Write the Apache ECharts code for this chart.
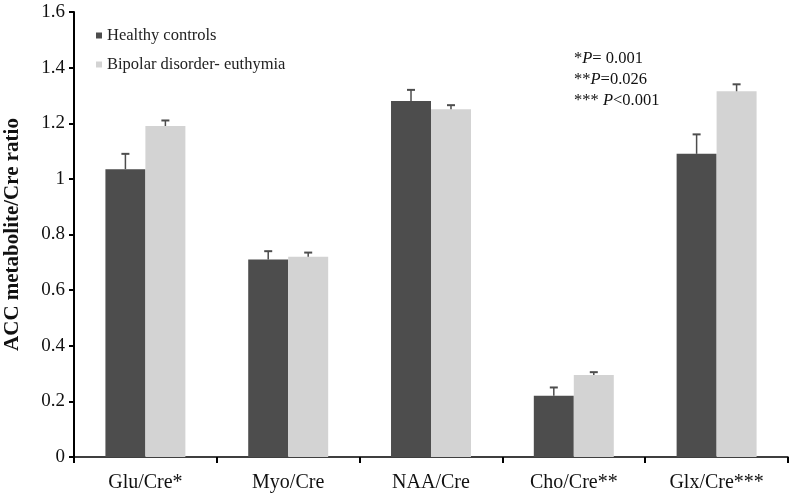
<!DOCTYPE html>
<html><head><meta charset="utf-8">
<script src="https://cdn.jsdelivr.net/npm/echarts@6/dist/echarts.min.js"></script>
<style>html,body{margin:0;padding:0;background:#fff}#c{width:792px;height:497px}</style>
</head><body><div id="c"></div>
<script>
var categories = ['Glu/Cre*', 'Myo/Cre', 'NAA/Cre', 'Cho/Cre**', 'Glx/Cre***'];
var healthy = [1.035, 0.71, 1.28, 0.22, 1.09];
var healthyErrTop = [1.09, 0.74, 1.32, 0.25, 1.16];
var bipolar = [1.19, 0.72, 1.25, 0.295, 1.315];
var bipolarErrTop = [1.21, 0.735, 1.265, 0.305, 1.34];
var yTicks = [0, 0.2, 0.4, 0.6, 0.8, 1, 1.2, 1.4, 1.6];

var font = 'Liberation Serif';
var chart = echarts.init(document.getElementById('c'));

function errSeries(name, vals, tops, offsetSign) {
  return {
    type: 'custom', name: name + ' err', silent: true, z: 5,
    data: vals.map(function (v, i) { return [i, v, tops[i]]; }),
    renderItem: function (params, api) {
      var base = api.coord([api.value(0), api.value(1)]);
      var top = api.coord([api.value(0), api.value(2)]);
      var bw = api.size([1, 0])[0];
      var x = base[0] + offsetSign * bw * 0.14;
      return {
        type: 'group', children: [
          { type: 'line', shape: { x1: x, y1: base[1], x2: x, y2: top[1] }, style: { stroke: '#4d4d4d', lineWidth: 1.5 } },
          { type: 'line', shape: { x1: x - 4, y1: top[1], x2: x + 4, y2: top[1] }, style: { stroke: '#4d4d4d', lineWidth: 2 } }
        ]
      };
    }
  };
}

var rich = { i: { fontStyle: 'italic', fontFamily: font, fontSize: 16.5 } };
chart.setOption({
  animation: false,
  textStyle: { fontFamily: font },
  grid: { left: 74, right: 4, top: 12, bottom: 40, containLabel: false, outerBoundsMode: 'none' },
  legend: {
    orient: 'vertical', left: 91, top: 22, itemWidth: 6, itemHeight: 6, itemGap: 12,
    icon: 'rect',
    textStyle: { fontFamily: font, fontSize: 16.5, color: '#222' },
    data: ['Healthy controls', 'Bipolar disorder- euthymia']
  },
  xAxis: {
    type: 'category', data: categories,
    axisLine: { lineStyle: { color: '#000', width: 1.5 } },
    axisTick: { show: true, length: 6, lineStyle: { color: '#000', width: 2 } },
    axisLabel: { fontFamily: font, fontSize: 20, color: '#111', margin: 16 }
  },
  yAxis: {
    type: 'value', min: 0, max: 1.6, interval: 0.2,
    name: 'ACC metabolite/Cre ratio', nameLocation: 'middle', nameGap: 51,
    nameTextStyle: { fontFamily: font, fontSize: 21, fontWeight: 'bold', color: '#111' },
    splitLine: { show: false },
    axisLine: { show: true, lineStyle: { color: '#000', width: 2 } },
    axisTick: { show: true, length: 5, lineStyle: { color: '#000', width: 2 } },
    axisLabel: { fontFamily: font, fontSize: 19, color: '#111', margin: 9,
      formatter: function (v) { var s = yTicks.indexOf(v) >= 0 ? String(+v.toFixed(1)) : ''; return s; } }
  },
  series: [
    { type: 'bar', name: 'Healthy controls', data: healthy, barGap: '0%', barCategoryGap: '44%', itemStyle: { color: '#4d4d4d' } },
    { type: 'bar', name: 'Bipolar disorder- euthymia', data: bipolar, itemStyle: { color: '#d3d3d3' } },
    errSeries('h', healthy, healthyErrTop, -1),
    errSeries('b', bipolar, bipolarErrTop, 1)
  ],
  graphic: [
    { type: 'text', left: 574, top: 50, style: { text: '*{i|P}= 0.001', font: '16.5px ' + font, fill: '#111', rich: rich } },
    { type: 'text', left: 574, top: 71, style: { text: '**{i|P}=0.026', font: '16.5px ' + font, fill: '#111', rich: rich } },
    { type: 'text', left: 574, top: 92, style: { text: '*** {i|P}<0.001', font: '16.5px ' + font, fill: '#111', rich: rich } }
  ]
});
</script></body></html>
